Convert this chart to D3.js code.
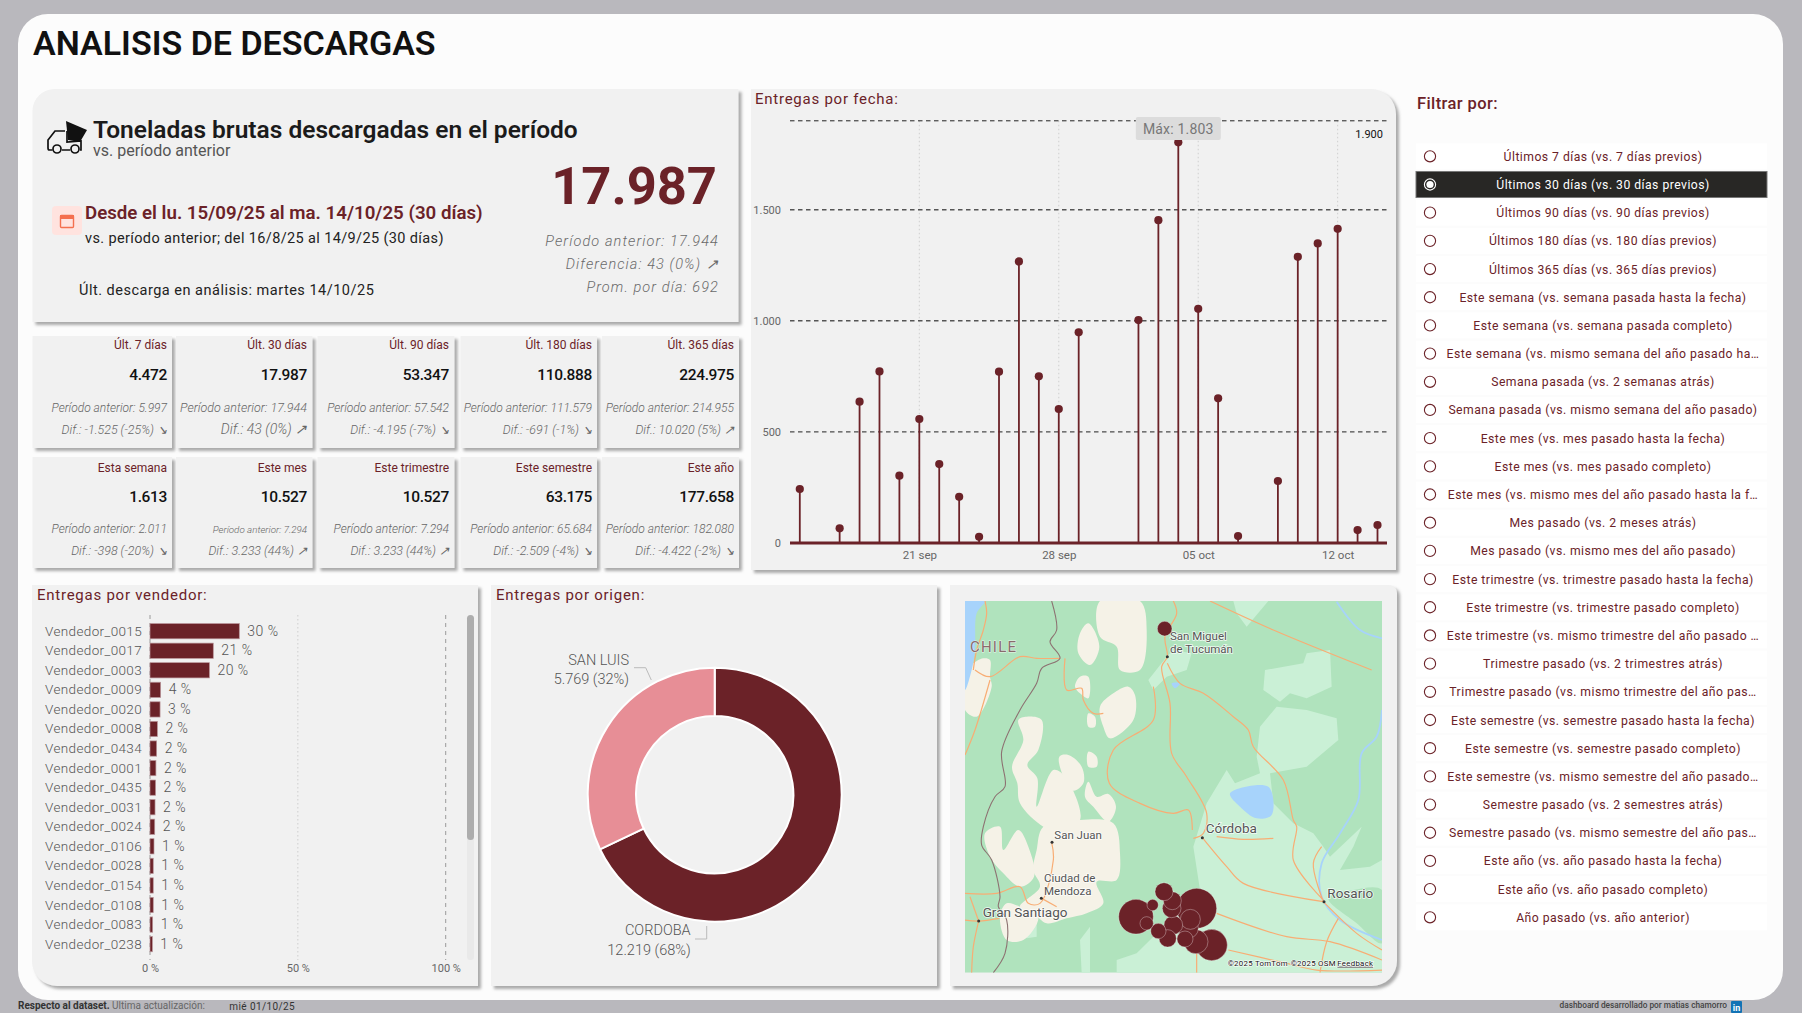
<!DOCTYPE html>
<html lang="es">
<head>
<meta charset="utf-8">
<title>Analisis de descargas</title>
<script src="https://cdn.jsdelivr.net/npm/d3@7"></script>
<style>
  html, body { margin: 0; padding: 0; background: #b9b8bd; overflow: hidden; }
  svg { display: block; font-family: Roboto, sans-serif; }
</style>
</head>
<body>
<div id="chart"></div>
<script>
const wine = "#6b2228";

// ---- data ----
const kpiTitles = ["Últ. 7 días", "Últ. 30 días", "Últ. 90 días", "Últ. 180 días", "Últ. 365 días",
  "Esta semana", "Este mes", "Este trimestre", "Este semestre", "Este año"];
const kpiValues = ["4.472", "17.987", "53.347", "110.888", "224.975",
  "1.613", "10.527", "10.527", "63.175", "177.658"];
const kpiPrevious = ["5.997", "17.944", "57.542", "111.579", "214.955",
  "2.011", "7.294", "7.294", "65.684", "182.080"];
const kpiDiffs = ["-1.525 (-25%) ↘", "43 (0%) ↗", "-4.195 (-7%) ↘", "-691 (-1%) ↘", "10.020 (5%) ↗",
  "-398 (-20%) ↘", "3.233 (44%) ↗", "3.233 (44%) ↗", "-2.509 (-4%) ↘", "-4.422 (-2%) ↘"];

const deliveryDates = ["2025-09-15", "2025-09-17", "2025-09-18", "2025-09-19", "2025-09-20", "2025-09-21",
  "2025-09-22", "2025-09-23", "2025-09-24", "2025-09-25", "2025-09-26", "2025-09-27", "2025-09-28",
  "2025-09-29", "2025-10-02", "2025-10-03", "2025-10-04", "2025-10-05", "2025-10-06", "2025-10-07",
  "2025-10-09", "2025-10-10", "2025-10-11", "2025-10-12", "2025-10-13", "2025-10-14"];
const deliveryTons = [243, 66, 636, 772, 303, 558, 355, 208, 28, 771, 1267, 750, 603, 948,
  1003, 1453, 1803, 1054, 651, 31, 279, 1288, 1348, 1414, 58, 81];
const yTicks = [0, 500, 1000, 1500];
const yMax = 1900;
const xTickDates = ["2025-09-21", "2025-09-28", "2025-10-05", "2025-10-12"];
const xTickLabels = ["21 sep", "28 sep", "05 oct", "12 oct"];

const vendors = ["Vendedor_0015", "Vendedor_0017", "Vendedor_0003", "Vendedor_0009", "Vendedor_0020",
  "Vendedor_0008", "Vendedor_0434", "Vendedor_0001", "Vendedor_0435", "Vendedor_0031", "Vendedor_0024",
  "Vendedor_0106", "Vendedor_0028", "Vendedor_0154", "Vendedor_0108", "Vendedor_0083", "Vendedor_0238"];
const vendorShare = [30.2, 21.4, 20.1, 3.6, 3.4, 2.5, 2.25, 2.0, 1.9, 1.7, 1.6, 1.35, 1.1, 1.1, 1.1, 0.9, 0.8];
const vendorLabels = ["30 %", "21 %", "20 %", "4 %", "3 %", "2 %", "2 %", "2 %", "2 %", "2 %", "2 %",
  "1 %", "1 %", "1 %", "1 %", "1 %", "1 %"];

const origins = ["CORDOBA", "SAN LUIS"];
const originTons = [12219, 5769];
const originLabels = ["12.219 (68%)", "5.769 (32%)"];

// map stuff is all in pixels of the map crop (75..1326, 93..1208)
const bubbleX = [674, 770, 588, 815, 768, 745, 751, 700, 695, 697, 672, 683, 735, 655, 620, 638];
const bubbleY = [176, 1015, 1040, 1125, 1115, 1075, 1048, 1065, 1015, 992, 965, 1105, 1107, 1083, 1060, 1005];
const bubbleTons = [484, 3600, 2704, 2209, 1296, 900, 900, 784, 784, 729, 729, 676, 576, 529, 400, 289];

const lightLand = [
  [[760, 830], [800, 700], [860, 600], [885, 640], [960, 610], [950, 560], [960, 470], [1010, 410], [1100, 420],
    [1190, 445], [1195, 510], [1100, 590], [990, 610], [1000, 700], [1060, 760], [1120, 790], [1150, 830],
    [1170, 860], [1265, 770], [1240, 830], [1200, 900], [1290, 890], [1326, 870], [1326, 1208], [530, 1208],
    [530, 1170], [590, 1150], [640, 1100], [780, 960]],
  [[975, 300], [1090, 280], [1100, 250], [1170, 240], [1175, 350], [1100, 385], [1050, 370], [1020, 395], [970, 360]],
  [[880, 93], [985, 93], [920, 170], [890, 130]],
  [[625, 330], [680, 260], [700, 240], [755, 250], [740, 300], [680, 320], [640, 360]],
  [[250, 1070], [290, 1050], [290, 1100], [260, 1105]],
  [[420, 1110], [450, 1070], [450, 1208], [425, 1208]]
];
const riverForest = [[1165, 985], [1240, 960], [1326, 960], [1326, 1120], [1250, 1060]];
const desert = [
  [[480, 93], [600, 93], [620, 180], [600, 300], [540, 300], [530, 230], [480, 200]],
  [[420, 190], [445, 160], [478, 230], [450, 285], [415, 250]],
  [[405, 350], [420, 320], [445, 320], [445, 385], [420, 370]],
  [[480, 410], [520, 370], [565, 350], [585, 375], [580, 450], [510, 505], [490, 470]],
  [[445, 430], [465, 440], [465, 470], [445, 470]],
  [[445, 545], [470, 560], [470, 590], [445, 590]],
  [[235, 450], [260, 440], [305, 450], [295, 540], [262, 585], [292, 625], [290, 710], [340, 600], [375, 620],
    [420, 750], [350, 780], [310, 770], [240, 700], [232, 640], [216, 590], [250, 510]],
  [[358, 560], [385, 555], [425, 590], [430, 640], [400, 662], [370, 620]],
  [[445, 635], [470, 680], [505, 672], [528, 710], [505, 755], [460, 710], [435, 680]],
  [[310, 770], [420, 750], [520, 760], [540, 850], [530, 930], [470, 935], [490, 1000], [440, 1030], [380, 1045],
    [320, 1060], [280, 1030], [240, 1010], [300, 950], [280, 900], [290, 840]],
  [[135, 790], [180, 770], [190, 840], [235, 780], [265, 830], [282, 920], [240, 950], [190, 910], [150, 860]],
  [[180, 1040], [200, 1000], [240, 1010], [295, 1040], [250, 1110], [200, 1110]],
  [[75, 340], [90, 290], [130, 265], [150, 270], [150, 320], [155, 350], [110, 440], [75, 420]]
];
const water = [
  [[75, 93], [135, 93], [110, 130], [105, 240], [95, 300], [75, 360]],
  [[870, 670], [985, 650], [995, 735], [950, 745], [900, 710]],
  [[695, 340], [720, 340], [705, 355]]
];
const rivers = [
  [[1326, 420], [1310, 500], [1265, 550], [1255, 690], [1200, 790], [1145, 880], [1145, 980], [1200, 1050], [1326, 1110]],
  [[1190, 95], [1260, 180], [1326, 205]]
];
const roads = [
  [[700, 93], [710, 130], [675, 200], [682, 260], [665, 290], [690, 400], [695, 550], [740, 620], [800, 730], [790, 790], [760, 805]],
  [[682, 280], [720, 340], [790, 370], [880, 440], [925, 480], [940, 530], [1030, 630], [1060, 750], [1070, 770], [1060, 870], [1150, 990]],
  [[810, 93], [1000, 180], [1295, 300]],
  [[640, 350], [640, 450], [520, 540], [508, 640], [600, 700], [700, 730], [745, 720], [757, 780]],
  [[787, 803], [860, 890], [910, 940], [1150, 995]],
  [[830, 800], [910, 808], [1000, 805]],
  [[1150, 995], [1120, 880], [1145, 830]],
  [[1150, 995], [1250, 1090], [1326, 1140]],
  [[830, 1030], [1040, 1100], [1170, 1115], [1326, 1170]],
  [[1195, 1045], [1160, 1115], [1140, 1208]],
  [[865, 1140], [1040, 1180], [1130, 1200], [1326, 1200]],
  [[770, 1150], [770, 1208]],
  [[375, 265], [380, 360], [425, 355], [430, 390], [460, 430], [490, 430]],
  [[105, 300], [150, 320], [240, 260], [290, 265], [360, 265]],
  [[75, 555], [105, 480], [150, 330]],
  [[135, 93], [140, 130], [130, 180], [110, 240], [100, 300]],
  [[75, 970], [170, 970], [240, 950], [265, 1000], [300, 1000], [340, 870], [335, 817]],
  [[305, 985], [350, 1010]],
  [[116, 1053], [90, 980]],
  [[116, 1053], [100, 1130], [95, 1208]],
  [[75, 1050], [116, 1053], [178, 1045]]
];
const border = [[335, 93], [350, 180], [330, 215], [360, 265], [305, 295], [290, 340], [240, 420], [185, 545], [195, 650],
  [165, 680], [130, 770], [125, 825], [155, 870], [180, 980], [175, 1010], [200, 1050], [195, 1150], [160, 1208]];
const cityNames = ["San Miguel", "de Tucumán", "Córdoba", "Rosario", "San Juan", "Ciudad de", "Mendoza", "Gran Santiago"];
const cityLabelX = [690, 690, 797, 1162, 343, 312, 312, 128];
const cityLabelY = [210, 250, 790, 983, 807, 935, 975, 1040];
const cityLabelSize = [11.5, 11.5, 13.5, 13.5, 11.5, 11.5, 11.5, 13.5];
const cityDotX = [682, 787, 1152, 336, 304, 116];
const cityDotY = [260, 803, 995, 817, 985, 1053];

const filterOptions = [
  "Últimos 7 días (vs. 7 días previos)", "Últimos 30 días (vs. 30 días previos)",
  "Últimos 90 días (vs. 90 días previos)", "Últimos 180 días (vs. 180 días previos)",
  "Últimos 365 días (vs. 365 días previos)", "Este semana (vs. semana pasada hasta la fecha)",
  "Este semana (vs. semana pasada completo)", "Este semana (vs. mismo semana del año pasado ha…",
  "Semana pasada (vs. 2 semanas atrás)", "Semana pasada (vs. mismo semana del año pasado)",
  "Este mes (vs. mes pasado hasta la fecha)", "Este mes (vs. mes pasado completo)",
  "Este mes (vs. mismo mes del año pasado hasta la f…", "Mes pasado (vs. 2 meses atrás)",
  "Mes pasado (vs. mismo mes del año pasado)", "Este trimestre (vs. trimestre pasado hasta la fecha)",
  "Este trimestre (vs. trimestre pasado completo)", "Este trimestre (vs. mismo trimestre del año pasado …",
  "Trimestre pasado (vs. 2 trimestres atrás)", "Trimestre pasado (vs. mismo trimestre del año pas…",
  "Este semestre (vs. semestre pasado hasta la fecha)", "Este semestre (vs. semestre pasado completo)",
  "Este semestre (vs. mismo semestre del año pasado…", "Semestre pasado (vs. 2 semestres atrás)",
  "Semestre pasado (vs. mismo semestre del año pas…", "Este año (vs. año pasado hasta la fecha)",
  "Este año (vs. año pasado completo)", "Año pasado (vs. año anterior)"
];
const selectedFilter = 1;

// ---- helpers ----
const svg = d3.select("#chart").append("svg").attr("width", 1802).attr("height", 1013);

const shadow = svg.append("defs").append("filter").attr("id", "cardShadow")
  .attr("x", "-5%").attr("y", "-5%").attr("width", "112%").attr("height", "112%");
shadow.append("feDropShadow").attr("dx", 3).attr("dy", 3).attr("stdDeviation", 1.6)
  .attr("flood-color", "#8f8f8f").attr("flood-opacity", 0.75);

function roundedPath(x, y, w, h, tl, tr, br, bl) {
  const p = d3.path();
  p.moveTo(x + tl, y);
  p.lineTo(x + w - tr, y);
  p.arcTo(x + w, y, x + w, y + tr, tr);
  p.lineTo(x + w, y + h - br);
  p.arcTo(x + w, y + h, x + w - br, y + h, br);
  p.lineTo(x + bl, y + h);
  p.arcTo(x, y + h, x, y + h - bl, bl);
  p.lineTo(x, y + tl);
  p.arcTo(x, y, x + tl, y, tl);
  p.closePath();
  return p.toString();
}

function card(x, y, w, h, tl = 0, tr = 0, br = 0, bl = 0) {
  svg.append("path").attr("d", roundedPath(x, y, w, h, tl, tr, br, bl))
    .attr("fill", "#f1f1f1").attr("filter", "url(#cardShadow)");
}

function text(x, y, str, size, fill, opts = {}) {
  return (opts.parent || svg).append("text")
    .attr("x", x).attr("y", y)
    .attr("font-size", size).attr("fill", fill)
    .attr("font-weight", opts.weight || 400)
    .attr("font-style", opts.italic ? "italic" : "normal")
    .attr("text-anchor", opts.anchor || "start")
    .attr("letter-spacing", opts.spacing || 0)
    .text(str);
}

// ---- page ----
svg.append("path").attr("d", roundedPath(18, 14, 1765, 986, 30, 30, 30, 30)).attr("fill", "#fcfcfc");
text(33, 55, "ANALISIS DE DESCARGAS", 34, "#111", { weight: 600 });

// ---- main card ----
card(32.5, 89, 706, 233, 22, 0, 0, 0);

const truck = svg.append("g").attr("fill", "none").attr("stroke", "#111").attr("stroke-width", 1.7);
truck.append("path").attr("d", "M52.5 150 h-3 q-1.5 0 -1.5 -2 v-8 l7 -9 h10 M62 150 h8 M80 150 h1 v-9 l-14 1 v-11");
truck.append("circle").attr("cx", 57).attr("cy", 149).attr("r", 4);
truck.append("circle").attr("cx", 75).attr("cy", 149).attr("r", 4);
svg.append("path").attr("d", "M66 121 L87 130 L80 142 L68 140 Z").attr("fill", "#111");

text(93, 138, "Toneladas brutas descargadas en el período", 24.5, "#1b1b1b", { weight: 600 });
text(93, 156, "vs. período anterior", 16, "#555");

text(717, 204, "17.987", 52.5, wine, { weight: 700, anchor: "end" });

svg.append("rect").attr("x", 52).attr("y", 206).attr("width", 30).attr("height", 29).attr("rx", 4).attr("fill", "#ffe3df");
svg.append("rect").attr("x", 60.5).attr("y", 215.5).attr("width", 13).attr("height", 12).attr("rx", 1)
  .attr("fill", "none").attr("stroke", "#f4704f").attr("stroke-width", 1.4);
svg.append("rect").attr("x", 60).attr("y", 215).attr("width", 14).attr("height", 4).attr("fill", "#f4704f");

text(85, 218.5, "Desde el lu. 15/09/25 al ma. 14/10/25 (30 días)", 18.7, wine, { weight: 600 });
text(85, 243, "vs. período anterior; del 16/8/25 al 14/9/25 (30 días)", 14.5, "#222", { spacing: 0.37 });
text(79, 295, "Últ. descarga en análisis: martes 14/10/25", 14.5, "#222", { spacing: 0.5 });

const sideOpts = { italic: true, weight: 300, anchor: "end", spacing: 1.1 };
text(719, 246, "Período anterior: 17.944", 14.5, "#6a6a6a", sideOpts);
text(719, 269, "Diferencia: 43 (0%) ↗", 14.5, "#6a6a6a", sideOpts);
text(719, 292, "Prom. por día: 692", 14.5, "#6a6a6a", sideOpts);

// ---- kpi cards ----
const kpiX = [32.5, 176, 317.5, 460.5, 602];
const kpiW = [139.5, 136.5, 137, 136.5, 137];
const kpiRight = [167, 307, 449, 592, 734];
const kpiRowY = [336, 457];
const kpiRowH = [112, 111];
const kpiRowText = [[349, 380, 412, 434], [472, 502, 533, 555]];

kpiTitles.forEach((title, i) => {
  const col = i % 5;
  const row = Math.floor(i / 5);
  const right = kpiRight[col];
  const ys = kpiRowText[row];
  card(kpiX[col], kpiRowY[row], kpiW[col], kpiRowH[row]);
  text(right, ys[0], title, 12, wine, { anchor: "end" });
  text(right, ys[1], kpiValues[i], 15.5, "#111", { anchor: "end", weight: 500, spacing: -0.35 });
  const prevSize = i === 6 ? 9.8 : i === 1 ? 12.5 : 12;
  text(right, ys[2], "Período anterior: " + kpiPrevious[i], prevSize, "#666",
    { anchor: "end", italic: true, weight: 300 });
  text(right, ys[3], "Dif.: " + kpiDiffs[i], i === 1 ? 14 : 12.4, "#666",
    { anchor: "end", italic: true, weight: 300 });
});

// ---- deliveries by date ----
card(751, 89, 645, 481, 0, 25, 0, 0);
text(755, 104, "Entregas por fecha:", 15, wine, { spacing: 0.75 });

const parseDay = d3.utcParse("%Y-%m-%d");
const xDate = d3.scaleUtc()
  .domain([parseDay("2025-09-15"), parseDay("2025-10-14")])
  .range([799.8, 1377.5]);
const yTons = d3.scaleLinear().domain([0, yMax]).range([543, 120.8]);

const xAxis = d3.axisBottom(xDate)
  .tickValues(xTickDates.map(parseDay))
  .tickFormat((d, i) => xTickLabels[i])
  .tickSize(0).tickPadding(8);
const gx = svg.append("g").attr("transform", "translate(0,543)").call(xAxis);
gx.select(".domain").remove();
gx.selectAll("text").attr("font-size", 11.5).attr("fill", "#666").attr("font-family", "Roboto, sans-serif");

const yAxis = d3.axisLeft(yTons)
  .tickValues(yTicks)
  .tickFormat(d => d3.format(",")(d).replace(/,/g, "."))
  .tickSize(0).tickPadding(9);
const gy = svg.append("g").attr("transform", "translate(790,0)").call(yAxis);
gy.select(".domain").remove();
gy.selectAll("text").attr("font-size", 11).attr("fill", "#666").attr("font-family", "Roboto, sans-serif");

svg.append("g").selectAll("line").data(xTickDates).join("line")
  .attr("x1", d => xDate(parseDay(d))).attr("x2", d => xDate(parseDay(d)))
  .attr("y1", yTons(yMax)).attr("y2", 543)
  .attr("stroke", "#cfcfcf").attr("stroke-dasharray", "1.5 2.5");

svg.append("g").selectAll("line").data([500, 1000, 1500, yMax]).join("line")
  .attr("x1", 790).attr("x2", 1387)
  .attr("y1", d => yTons(d)).attr("y2", d => yTons(d))
  .attr("stroke", d => (d === 500 || d === yMax ? "#222" : "#555"))
  .attr("stroke-width", d => (d === 500 || d === yMax ? 1 : 1.4))
  .attr("stroke-dasharray", "4.5 3.5");

text(1383, 138, "1.900", 11, "#111", { anchor: "end" });

const stems = deliveryDates.map((d, i) => ({ day: parseDay(d), tons: deliveryTons[i] }));
svg.append("g").selectAll("line").data(stems).join("line")
  .attr("x1", d => xDate(d.day)).attr("x2", d => xDate(d.day))
  .attr("y1", d => yTons(d.tons)).attr("y2", 543)
  .attr("stroke", wine).attr("stroke-width", 1.8);
svg.append("line").attr("x1", 790).attr("x2", 1387).attr("y1", 543).attr("y2", 543)
  .attr("stroke", wine).attr("stroke-width", 2.8);
svg.append("g").selectAll("circle").data(stems).join("circle")
  .attr("cx", d => xDate(d.day)).attr("cy", d => yTons(d.tons)).attr("r", 4.1)
  .attr("fill", wine);

const maxDelivery = stems[d3.maxIndex(stems, d => d.tons)];
svg.append("rect").attr("x", xDate(maxDelivery.day) - 42.5).attr("y", 117).attr("width", 85).attr("height", 23)
  .attr("rx", 2).attr("fill", "#dcdcdc");
text(xDate(maxDelivery.day), 134, "Máx: 1.803", 14, "#777", { anchor: "middle", spacing: 0.2 });

// ---- deliveries by vendor ----
card(32, 585, 446, 401, 0, 0, 0, 25);
text(37, 600, "Entregas por vendedor:", 15, wine, { spacing: 0.75 });

const xShare = d3.scaleLinear().domain([0, 100]).range([150, 445.7]);
const yVendor = d3.scaleBand().domain(vendors).range([621.4, 953.9]).paddingInner(0.22).paddingOuter(0.11);

const shareAxis = d3.axisBottom(xShare).tickValues([0, 50, 100]).tickFormat(d => d + " %").tickSize(0).tickPadding(0);
const gs = svg.append("g").attr("transform", "translate(0,964)").call(shareAxis);
gs.select(".domain").remove();
gs.selectAll("text").attr("font-size", 11).attr("fill", "#666").attr("font-family", "Roboto, sans-serif");

svg.append("g").selectAll("line").data([0, 50, 100]).join("line")
  .attr("x1", d => xShare(d)).attr("x2", d => xShare(d))
  .attr("y1", 615).attr("y2", 960)
  .attr("stroke", d => (d === 50 ? "#cfcfcf" : "#9a9a9a"))
  .attr("stroke-dasharray", d => (d === 50 ? "1.5 2.5" : "4 4"));

const vendorRows = svg.append("g").selectAll("g").data(vendors).join("g");
vendorRows.append("rect")
  .attr("x", xShare(0)).attr("y", d => yVendor(d))
  .attr("width", (d, i) => xShare(vendorShare[i]) - xShare(0))
  .attr("height", yVendor.bandwidth())
  .attr("fill", wine).attr("stroke", "#b9959a").attr("stroke-width", 0.7);
vendorRows.append("text")
  .attr("x", 142).attr("y", d => yVendor(d) + yVendor.bandwidth() / 2 + 4.5)
  .attr("text-anchor", "end").attr("font-size", 13.5).attr("letter-spacing", 0.35)
  .attr("font-weight", 300).attr("fill", "#555").text(d => d);
vendorRows.append("text")
  .attr("x", (d, i) => xShare(vendorShare[i]) + 8).attr("y", d => yVendor(d) + yVendor.bandwidth() / 2 + 4.5)
  .attr("font-size", 14).attr("letter-spacing", 0.5)
  .attr("font-weight", 300).attr("fill", "#555").text((d, i) => vendorLabels[i]);

svg.append("rect").attr("x", 467).attr("y", 615).attr("width", 7).attr("height", 345).attr("rx", 3.5).attr("fill", "#e9e9e9");
svg.append("rect").attr("x", 467).attr("y", 615).attr("width", 7).attr("height", 225).attr("rx", 3.5).attr("fill", "#adadad");

// ---- deliveries by origin ----
card(491, 585, 446, 401);
text(496, 600, "Entregas por origen:", 15, wine, { spacing: 0.75 });

const donut = svg.append("g").attr("transform", "translate(714.7,794.7)");
const pie = d3.pie().sort(null);
const arc = d3.arc().innerRadius(78.7).outerRadius(127);
const originColour = d3.scaleOrdinal().domain(origins).range([wine, "#e78e96"]);
donut.selectAll("path").data(pie(originTons)).join("path")
  .attr("d", arc)
  .attr("fill", (d, i) => originColour(origins[i]))
  .attr("stroke", "#fff").attr("stroke-width", 2);

const originOpts = { anchor: "end", weight: 300 };
text(629, 665, origins[1], 14.5, "#555", originOpts);
text(629, 684, originLabels[1], 14.5, "#555", originOpts);
text(690.7, 935, origins[0], 14.5, "#555", originOpts);
text(690.7, 955, originLabels[0], 14.5, "#555", originOpts);
svg.append("path").attr("d", "M634 667.7 H645.7 L651.3 680 M695 939 H706.7 V926")
  .attr("fill", "none").attr("stroke", "#bbb");

// ---- map ----
card(950, 585, 447, 401, 0, 8, 25, 0);

const xMap = d3.scaleLinear().domain([75, 1326]).range([965, 1382]);
const yMap = d3.scaleLinear().domain([93, 1208]).range([601, 972.7]);
const rTons = d3.scaleSqrt().domain([0, d3.max(bubbleTons)]).range([0, 20]);
const mapLine = d3.line().x(d => xMap(d[0])).y(d => yMap(d[1]));
const mapCurve = d3.line().x(d => xMap(d[0])).y(d => yMap(d[1])).curve(d3.curveCatmullRom.alpha(0.5));
const mapShape = d3.line().x(d => xMap(d[0])).y(d => yMap(d[1])).curve(d3.curveCatmullRomClosed.alpha(0.5));

svg.append("clipPath").attr("id", "mapClip").append("rect")
  .attr("x", 965).attr("y", 601).attr("width", 417).attr("height", 371.7);
const map = svg.append("g").attr("clip-path", "url(#mapClip)");
map.append("rect").attr("x", 965).attr("y", 601).attr("width", 417).attr("height", 371.7).attr("fill", "#b0e3bd");
map.append("g").selectAll("path").data(lightLand).join("path").attr("d", d => mapLine(d) + "Z").attr("fill", "#caf0d6");
map.append("path").attr("d", mapShape(riverForest)).attr("fill", "#b0e3bd");
map.append("g").selectAll("path").data(desert).join("path").attr("d", mapShape).attr("fill", "#f5f2e7");
map.append("g").selectAll("path").data(water).join("path").attr("d", mapShape).attr("fill", "#a7d3fb");
map.append("g").selectAll("path").data(rivers).join("path").attr("d", mapCurve)
  .attr("fill", "none").attr("stroke", "#a7d3fb").attr("stroke-width", 1.8);
map.append("g").selectAll("path").data(roads).join("path").attr("d", mapCurve)
  .attr("fill", "none").attr("stroke", "#f8ad74").attr("stroke-width", 1.2);
map.append("path").attr("d", mapCurve(border)).attr("fill", "none").attr("stroke", "#8d7272").attr("stroke-width", 1.1);

map.append("g").selectAll("circle").data(cityDotX).join("circle")
  .attr("cx", d => xMap(d)).attr("cy", (d, i) => yMap(cityDotY[i])).attr("r", 1.5).attr("fill", "#333");

map.append("g").selectAll("text").data(cityNames).join("text")
  .attr("x", (d, i) => xMap(cityLabelX[i])).attr("y", (d, i) => yMap(cityLabelY[i]))
  .attr("font-size", (d, i) => cityLabelSize[i]).attr("fill", "#555")
  .attr("stroke", "#fff").attr("stroke-width", 1.6).attr("paint-order", "stroke").attr("stroke-opacity", 0.8)
  .text(d => d);
text(xMap(90), yMap(245), "CHILE", 15, "#8a6b6b", { parent: map, spacing: 1.2 })
  .attr("stroke", "#fff").attr("stroke-width", 1).attr("paint-order", "stroke").attr("stroke-opacity", 0.7);

map.append("g").selectAll("circle").data(bubbleTons).join("circle")
  .attr("cx", (d, i) => xMap(bubbleX[i])).attr("cy", (d, i) => yMap(bubbleY[i]))
  .attr("r", d => rTons(d))
  .attr("fill", wine).attr("stroke", "#fff").attr("stroke-opacity", 0.4).attr("stroke-width", 0.8);

const credit = map.append("g").attr("font-size", 7.8).attr("fill", "#111").attr("letter-spacing", 0.3)
  .attr("stroke", "#fff").attr("stroke-width", 1.2).attr("paint-order", "stroke");
credit.append("text").attr("x", xMap(863)).attr("y", yMap(1187)).text("©2025 TomTom");
credit.append("text").attr("x", xMap(1052)).attr("y", yMap(1187)).text("©2025 OSM");
credit.append("text").attr("x", xMap(1192)).attr("y", yMap(1187)).attr("text-decoration", "underline").text("Feedback");

// ---- filter list ----
text(1417, 109, "Filtrar por:", 16.5, wine, { weight: 500, spacing: 0.4 });

const yFilter = d3.scaleLinear().domain([0, 27]).range([156.3, 917.3]);
const filterRows = svg.append("g").selectAll("g").data(filterOptions).join("g");
filterRows.append("rect")
  .attr("x", 1416).attr("y", (d, i) => yFilter(i) - 13).attr("width", 351).attr("height", 26)
  .attr("fill", (d, i) => (i === selectedFilter ? "#282725" : "#fff"))
  .attr("stroke", (d, i) => (i === selectedFilter ? "#777" : "none"));
filterRows.append("circle")
  .attr("cx", 1430).attr("cy", (d, i) => yFilter(i)).attr("r", 5.6)
  .attr("fill", "none")
  .attr("stroke", (d, i) => (i === selectedFilter ? "#fff" : wine)).attr("stroke-width", 1.1);
filterRows.filter((d, i) => i === selectedFilter).append("circle")
  .attr("cx", 1430).attr("cy", yFilter(selectedFilter)).attr("r", 3.6).attr("fill", "#fff");
filterRows.append("text")
  .attr("x", 1603).attr("y", (d, i) => yFilter(i) + 4.5)
  .attr("text-anchor", "middle").attr("font-size", 12.2).attr("letter-spacing", 0.47)
  .attr("fill", (d, i) => (i === selectedFilter ? "#fff" : wine))
  .text(d => d);

// ---- footer ----
const footLeft = text(18, 1008.7, "", 10, "#444");
footLeft.append("tspan").attr("font-weight", 700).attr("fill", "#333").text("Respecto al dataset.");
footLeft.append("tspan").attr("fill", "#666").text(" Ultima actualización:");
text(229.3, 1010, "mié 01/10/25", 10, "#333", { spacing: 0.4 });
text(1727, 1008, "dashboard desarrollado por matias chamorro", 8.3, "#444", { anchor: "end", weight: 500 });
svg.append("rect").attr("x", 1731).attr("y", 1001).attr("width", 11).attr("height", 12).attr("rx", 1).attr("fill", "#1273b5");
text(1736.5, 1011, "in", 9, "#fff", { anchor: "middle", weight: 700 });
</script>
</body>
</html>
